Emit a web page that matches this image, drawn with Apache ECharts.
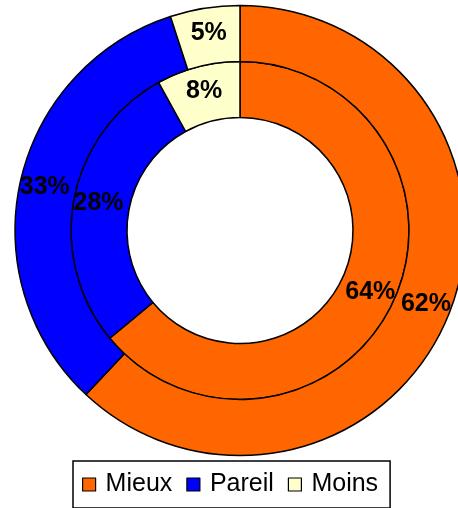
<!DOCTYPE html>
<html>
<head>
<meta charset="utf-8">
<script src="https://cdn.jsdelivr.net/npm/echarts@6/dist/echarts.min.js"></script>
<style>
html,body{margin:0;padding:0;background:#fff;}
#chart{width:458px;height:508px;}
</style>
</head>
<body>
<div id="chart"></div>
<script>
const categories = ['Mieux', 'Pareil', 'Moins'];
const outerValues = [62, 33, 5];
const innerValues = [64, 28, 8];
const colors = ['#FF6600', '#0000FF', '#FFFFCC'];

const chart = echarts.init(document.getElementById('chart'), null, {renderer: 'canvas'});

function makeData(values) {
  return categories.map((c, i) => ({name: c, value: values[i], itemStyle: {color: colors[i]}}));
}

const labelStyle = {
  show: true,
  position: 'inside',
  formatter: p => p.value + '%',
  fontSize: 25,
  fontWeight: 'bold',
  color: '#000',
  fontFamily: '"Liberation Sans", Arial, sans-serif'
};

const base = {
  type: 'pie',
  center: [240, 230.5],
  startAngle: 90,
  clockwise: true,
  avoidLabelOverlap: false,
  label: labelStyle,
  labelLine: {show: false},
  itemStyle: {borderColor: '#000', borderWidth: 1.5},
  emphasis: {disabled: true},
  silent: true
};

chart.setOption({
  animation: false,
  legend: {
    data: categories,
    left: 73,
    top: 461,
    padding: [11, 12, 11, 9],
    itemWidth: 13,
    itemHeight: 13,
    itemGap: 14,
    icon: 'rect',
    itemStyle: {borderColor: '#000', borderWidth: 1.2},
    borderColor: '#000',
    borderWidth: 1.5,
    textStyle: {
      fontSize: 25,
      color: '#000',
      fontFamily: '"Liberation Sans", Arial, sans-serif',
      padding: [0, 0, 0, 5]
    },
    selectedMode: false
  },
  series: [
    Object.assign({}, base, {name: 'Inner', radius: [113, 169], data: makeData(innerValues)}),
    Object.assign({}, base, {name: 'Outer', radius: [169, 225], data: makeData(outerValues)})
  ]
});
</script>
</body>
</html>
